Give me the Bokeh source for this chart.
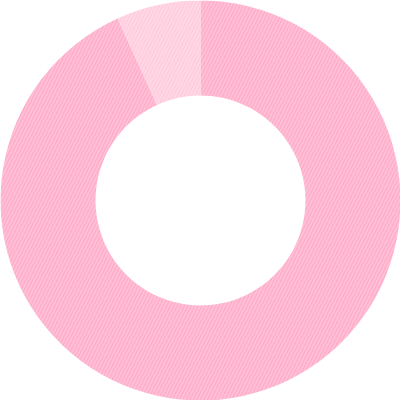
import numpy as np
from bokeh.plotting import figure
from bokeh.models import ColumnDataSource, Range1d
from bokeh.embed import file_html
from bokeh.resources import INLINE

labels = ["A", "B"]
values = [93.2, 6.8]
colors = ["#FFAAC8", "#FFCADC"]

vals = np.array(values, dtype=float)
frac = vals / vals.sum()
cum = np.concatenate([[0], np.cumsum(frac)])
# clockwise from 12 o'clock
ends = np.pi / 2 - cum[:-1] * 2 * np.pi
starts = np.pi / 2 - cum[1:] * 2 * np.pi

src = ColumnDataSource(dict(label=labels, start=starts, end=ends, color=colors))

p = figure(width=400, height=400, output_backend="svg", toolbar_location=None,
           x_range=Range1d(-1, 1), y_range=Range1d(-1, 1), min_border=0)
p.annular_wedge(x=0, y=0, inner_radius=0.525, outer_radius=1.0,
                start_angle="start", end_angle="end", source=src,
                fill_color="color", line_color=None,
                hatch_pattern="/", hatch_color="white", hatch_alpha=0.25,
                hatch_scale=7, hatch_weight=2)
p.axis.visible = False
p.grid.visible = False
p.outline_line_color = None
p.background_fill_color = "white"
p.border_fill_color = "white"

html = file_html(p, INLINE)
html = html.replace("<head>", "<head><style>html,body{margin:0;padding:0;}</style>", 1)
open("out.html", "w").write(html)
